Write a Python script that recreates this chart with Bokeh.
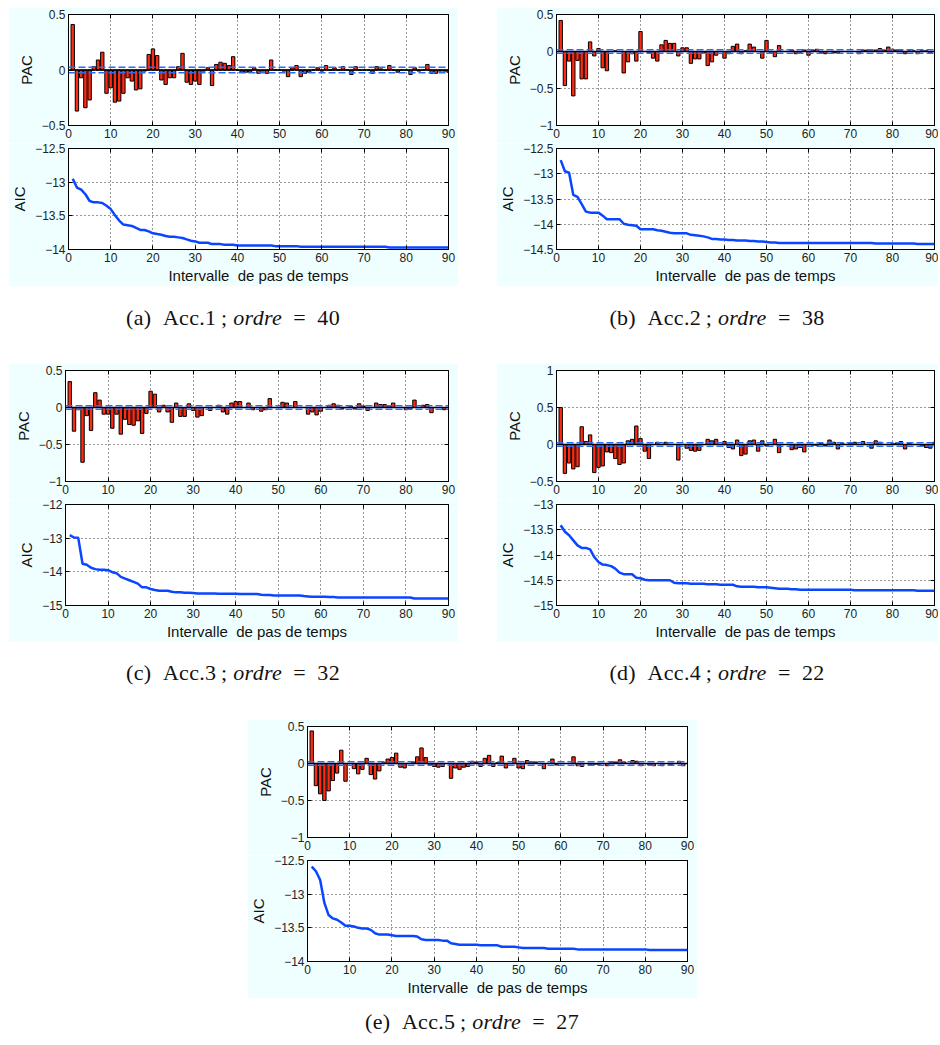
from bokeh.plotting import figure
from bokeh.layouts import column, row
from bokeh.models import (Div, Spacer, FixedTicker, CustomJSTickFormatter, Range1d, Span,
                          LinearAxis)
from bokeh.embed import file_html
from bokeh.resources import INLINE

lags = list(range(1, 91))
x_ticks = [0, 10, 20, 30, 40, 50, 60, 70, 80, 90]

pac_a = [0.41, -0.37, -0.07, -0.34, -0.27, 0.03, 0.09, 0.16, -0.21, -0.16,
         -0.29, -0.28, -0.21, -0.07, -0.10, -0.18, -0.17, -0.01, 0.14, 0.19,
         0.13, -0.09, -0.13, -0.07, -0.07, 0.03, 0.15, -0.11, -0.13, -0.10,
         -0.13, -0.01, 0.02, -0.14, 0.05, 0.07, 0.06, 0.04, 0.12, 0.0,
         -0.02, -0.02, -0.02, 0.02, -0.03, -0.01, -0.03, 0.09, 0.0, 0.0,
         -0.01, -0.06, 0.02, 0.04, -0.06, -0.03, -0.02, 0.0, 0.02, -0.01,
         0.04, 0.0, 0.02, 0.0, 0.03, 0.0, -0.04, 0.03, 0.0, 0.0,
         0.0, -0.03, 0.03, 0.01, 0.0, 0.04, 0.0, -0.02, 0.0, 0.0,
         -0.04, 0.02, -0.01, 0.0, 0.05, -0.03, -0.03, -0.01, -0.01, -0.02]
pac_b = [0.42, -0.46, -0.13, -0.60, -0.12, -0.37, -0.37, 0.13, -0.06, 0.04,
         -0.22, -0.26, 0.0, 0.01, 0.0, -0.29, -0.14, -0.03, -0.13, 0.27,
         0.0, -0.02, -0.09, -0.13, 0.09, 0.15, 0.11, 0.11, -0.06, 0.05,
         0.05, -0.16, -0.10, -0.10, -0.02, -0.19, -0.14, -0.05, 0.0, -0.09,
         -0.03, 0.07, 0.10, -0.03, 0.01, 0.10, 0.06, 0.0, -0.09, 0.15,
         -0.01, -0.07, 0.08, 0.0, 0.0, 0.02, -0.03, -0.01, 0.02, -0.05,
         0.02, 0.03, -0.02, -0.03, 0.0, -0.02, -0.02, 0.0, 0.0, 0.0,
         0.0, -0.03, 0.02, 0.02, 0.01, 0.02, 0.04, 0.02, 0.06, 0.03,
         0.02, 0.01, -0.03, 0.01, 0.01, -0.03, 0.01, 0.01, -0.02, 0.0]
pac_c = [0.35, -0.32, -0.03, -0.74, -0.11, -0.31, 0.20, 0.10, -0.09, -0.09,
         -0.28, -0.09, -0.36, -0.16, -0.23, -0.24, -0.18, -0.35, -0.08, 0.22,
         0.18, -0.06, 0.03, -0.06, -0.20, 0.06, -0.12, -0.12, 0.05, -0.04,
         -0.13, -0.11, 0.0, -0.04, 0.0, 0.03, -0.06, -0.09, 0.06, 0.08,
         0.08, 0.0, 0.06, -0.03, 0.0, -0.05, -0.03, 0.12, 0.0, 0.0,
         0.07, 0.06, 0.0, 0.08, 0.0, 0.0, -0.09, -0.06, -0.10, -0.05,
         0.0, 0.03, 0.05, 0.03, -0.02, 0.0, 0.02, -0.02, 0.05, 0.02,
         -0.04, 0.0, 0.06, 0.04, 0.04, 0.02, 0.06, 0.0, 0.0, -0.03,
         -0.02, 0.10, 0.0, 0.03, 0.04, -0.07, 0.0, 0.0, -0.03, 0.0]
pac_d = [0.50, -0.39, -0.25, -0.33, -0.30, 0.24, 0.04, 0.13, -0.38, -0.31,
         -0.29, -0.10, -0.11, -0.19, -0.27, -0.25, 0.05, 0.07, 0.25, 0.08,
         -0.09, -0.19, 0.0, 0.03, 0.0, 0.03, 0.0, 0.0, -0.21, 0.0,
         -0.05, -0.08, -0.09, -0.08, 0.0, 0.07, 0.05, 0.07, 0.0, 0.04,
         -0.04, -0.06, 0.06, -0.15, -0.13, 0.05, 0.06, -0.09, 0.05, -0.02,
         0.0, 0.07, -0.11, 0.0, 0.0, -0.07, -0.06, -0.04, -0.10, 0.0,
         -0.01, -0.01, 0.02, -0.02, 0.06, 0.03, -0.06, 0.02, 0.0, 0.02,
         0.03, 0.0, 0.04, 0.0, -0.05, 0.05, 0.03, 0.0, 0.0, 0.01,
         0.02, 0.04, -0.06, 0.02, 0.0, 0.0, -0.02, -0.04, -0.05, 0.03]
pac_e = [0.44, -0.30, -0.41, -0.50, -0.37, -0.23, -0.13, 0.18, -0.24, 0.0,
         -0.07, -0.14, -0.08, 0.07, -0.15, -0.21, -0.10, 0.01, 0.06, 0.08,
         0.14, -0.05, -0.06, 0.0, 0.02, 0.09, 0.21, 0.08, -0.02, -0.04,
         -0.05, -0.04, 0.0, -0.20, -0.06, -0.08, -0.05, -0.04, 0.03, 0.02,
         -0.04, 0.07, 0.11, -0.04, 0.01, 0.10, -0.06, 0.0, 0.07, -0.06,
         -0.07, 0.04, 0.02, 0.02, 0.0, -0.07, 0.0, 0.06, -0.02, 0.0,
         0.0, 0.0, 0.09, -0.03, -0.04, 0.0, -0.02, -0.01, -0.01, 0.0,
         -0.03, 0.02, 0.02, 0.05, 0.02, 0.0, 0.04, 0.03, -0.03, 0.0,
         -0.02, -0.03, 0.0, -0.03, 0.0, -0.02, 0.0, 0.03, -0.03, 0.0]

aic_a = [-12.95, -13.08, -13.11, -13.18, -13.28, -13.30, -13.30, -13.31, -13.35, -13.40,
         -13.49, -13.57, -13.63, -13.64, -13.65, -13.68, -13.71, -13.71, -13.73, -13.76,
         -13.77, -13.78, -13.80, -13.81, -13.81, -13.82, -13.83, -13.85, -13.87, -13.88,
         -13.90, -13.90, -13.90, -13.92, -13.92, -13.92, -13.93, -13.93, -13.93, -13.94,
         -13.94, -13.94, -13.94, -13.94, -13.94, -13.94, -13.94, -13.94, -13.95, -13.95,
         -13.95, -13.95, -13.95, -13.95, -13.96, -13.96, -13.96, -13.96, -13.96, -13.96,
         -13.96, -13.96, -13.96, -13.96, -13.96, -13.96, -13.96, -13.96, -13.96, -13.96,
         -13.96, -13.96, -13.96, -13.96, -13.96, -13.97, -13.97, -13.97, -13.97, -13.97,
         -13.97, -13.97, -13.97, -13.97, -13.97, -13.97, -13.97, -13.97, -13.97, -13.97]
aic_b = [-12.73, -12.95, -12.98, -13.42, -13.46, -13.60, -13.75, -13.77, -13.77, -13.77,
         -13.83, -13.90, -13.90, -13.90, -13.90, -13.99, -14.01, -14.02, -14.03, -14.10,
         -14.10, -14.10, -14.10, -14.12, -14.13, -14.15, -14.17, -14.18, -14.18, -14.18,
         -14.18, -14.21, -14.22, -14.23, -14.24, -14.26, -14.29, -14.29, -14.30, -14.30,
         -14.31, -14.31, -14.32, -14.32, -14.32, -14.33, -14.33, -14.34, -14.34, -14.35,
         -14.36, -14.36, -14.37, -14.37, -14.37, -14.37, -14.37, -14.37, -14.37, -14.37,
         -14.37, -14.37, -14.37, -14.37, -14.37, -14.37, -14.37, -14.37, -14.37, -14.37,
         -14.37, -14.37, -14.37, -14.37, -14.37, -14.38, -14.38, -14.38, -14.38, -14.38,
         -14.38, -14.38, -14.38, -14.38, -14.38, -14.39, -14.39, -14.39, -14.39, -14.39]
aic_c = [-12.91, -12.98, -12.99, -13.76, -13.79, -13.88, -13.92, -13.94, -13.94, -13.95,
         -14.01, -14.04, -14.15, -14.20, -14.25, -14.30, -14.35, -14.46, -14.46, -14.51,
         -14.54, -14.56, -14.56, -14.56, -14.59, -14.61, -14.61, -14.62, -14.62, -14.63,
         -14.64, -14.64, -14.64, -14.64, -14.64, -14.65, -14.65, -14.65, -14.65, -14.65,
         -14.66, -14.66, -14.66, -14.66, -14.66, -14.68, -14.69, -14.69, -14.70, -14.70,
         -14.70, -14.70, -14.70, -14.70, -14.70, -14.72, -14.73, -14.74, -14.74, -14.74,
         -14.74, -14.75, -14.75, -14.76, -14.76, -14.76, -14.76, -14.76, -14.76, -14.76,
         -14.76, -14.76, -14.76, -14.76, -14.76, -14.76, -14.76, -14.76, -14.76, -14.76,
         -14.76, -14.79, -14.79, -14.79, -14.79, -14.79, -14.79, -14.79, -14.79, -14.79]
aic_d = [-13.41, -13.54, -13.61, -13.71, -13.81, -13.86, -13.86, -13.89, -14.04, -14.14,
         -14.19, -14.20, -14.22, -14.27, -14.35, -14.38, -14.38, -14.38, -14.45, -14.46,
         -14.49, -14.50, -14.50, -14.50, -14.50, -14.50, -14.50, -14.55, -14.56, -14.56,
         -14.56, -14.57, -14.57, -14.57, -14.57, -14.58, -14.58, -14.58, -14.59, -14.59,
         -14.59, -14.59, -14.62, -14.63, -14.63, -14.63, -14.63, -14.64, -14.64, -14.64,
         -14.65, -14.66, -14.67, -14.67, -14.67, -14.68, -14.68, -14.69, -14.69, -14.69,
         -14.69, -14.69, -14.69, -14.69, -14.69, -14.69, -14.69, -14.69, -14.69, -14.69,
         -14.70, -14.70, -14.70, -14.70, -14.70, -14.70, -14.70, -14.70, -14.70, -14.70,
         -14.70, -14.70, -14.70, -14.70, -14.70, -14.71, -14.71, -14.71, -14.71, -14.71]
aic_e = [-12.59, -12.66, -12.79, -13.13, -13.31, -13.36, -13.38, -13.42, -13.47, -13.47,
         -13.48, -13.50, -13.51, -13.51, -13.53, -13.58, -13.60, -13.60, -13.60, -13.61,
         -13.62, -13.62, -13.62, -13.62, -13.62, -13.63, -13.67, -13.68, -13.68, -13.68,
         -13.68, -13.69, -13.69, -13.73, -13.74, -13.75, -13.75, -13.75, -13.75, -13.75,
         -13.76, -13.76, -13.76, -13.76, -13.76, -13.78, -13.78, -13.78, -13.78, -13.79,
         -13.80, -13.80, -13.80, -13.80, -13.80, -13.80, -13.81, -13.81, -13.81, -13.81,
         -13.81, -13.81, -13.81, -13.82, -13.82, -13.82, -13.82, -13.82, -13.82, -13.82,
         -13.82, -13.82, -13.82, -13.82, -13.82, -13.82, -13.82, -13.82, -13.82, -13.82,
         -13.83, -13.83, -13.83, -13.83, -13.83, -13.83, -13.83, -13.83, -13.83, -13.83]

pac_ticks_a = [-0.5, 0, 0.5]
pac_ticks_b = [-1, -0.5, 0, 0.5]
pac_ticks_c = [-1, -0.5, 0, 0.5]
pac_ticks_d = [-0.5, 0, 0.5, 1]
pac_ticks_e = [-1, -0.5, 0, 0.5]
aic_ticks_a = [-14, -13.5, -13, -12.5]
aic_ticks_b = [-14.5, -14, -13.5, -13, -12.5]
aic_ticks_c = [-15, -14, -13, -12]
aic_ticks_d = [-15, -14.5, -14, -13.5, -13]
aic_ticks_e = [-14, -13.5, -13, -12.5]
conf_bound = 0.025

panel_labels = ["a", "b", "c", "d", "e"]
sensors = ["Acc.1", "Acc.2", "Acc.3", "Acc.4", "Acc.5"]
orders = ["40", "38", "32", "22", "27"]
x_title = "Intervalle\u00a0 de pas de temps"

CYAN = "#EFFFFF"
RED = "#FF2A12"
BLUE = "#0A46FF"
DASH_BLUE = "#2F6BEF"
FONT = "Liberation Sans"

fmt_code = "return String(tick).replace('-', '\u2212');"


def mirror_axis(p, ticks, place):
    ax = LinearAxis(ticker=FixedTicker(ticks=ticks),
                    formatter=CustomJSTickFormatter(code="return '';"),
                    major_label_standoff=0, major_tick_in=4, major_tick_out=0,
                    minor_tick_line_color=None, axis_line_color=None,
                    major_tick_line_color="black")
    p.add_layout(ax, place)


def style(p, yticks, ylabel, xlabel):
    p.xaxis.ticker = FixedTicker(ticks=x_ticks)
    p.yaxis.ticker = FixedTicker(ticks=yticks)
    for ax in (p.xaxis[0], p.yaxis[0]):
        ax.major_tick_in = 4
        ax.major_tick_out = 0
        ax.minor_tick_line_color = None
        ax.major_tick_line_color = "black"
        ax.axis_line_color = "black"
        ax.major_label_text_font = FONT
        ax.major_label_text_font_size = "12px"
        ax.major_label_text_color = "#222222"
        ax.major_label_standoff = 3
        ax.formatter = CustomJSTickFormatter(code=fmt_code)
        ax.axis_label_text_font = FONT
        ax.axis_label_text_font_size = "15px"
        ax.axis_label_text_font_style = "normal"
        ax.axis_label_text_color = "#111111"
        ax.axis_label_standoff = 4
    p.yaxis[0].axis_label = ylabel
    if xlabel:
        p.xaxis[0].axis_label = xlabel
        p.xaxis[0].axis_label_standoff = 2
    for g in (p.xgrid[0], p.ygrid[0]):
        g.grid_line_color = "#333333"
        g.grid_line_dash = "1 3"
        g.grid_line_width = 1
    p.outline_line_color = "black"
    p.outline_line_width = 1
    mirror_axis(p, x_ticks, "above")
    mirror_axis(p, yticks, "right")


def make_panel(i, pac, aic, pac_ticks, aic_ticks, W, bl, br, cap_h, cap_pad):
    p1 = figure(width=W, height=136, output_backend="svg", toolbar_location=None,
                x_range=Range1d(0, 90), y_range=Range1d(pac_ticks[0], pac_ticks[-1]),
                min_border_left=bl, min_border_right=br, min_border_top=7, min_border_bottom=18,
                background_fill_color="white", border_fill_color=CYAN)
    p1.vbar(x=lags, top=pac, bottom=0, width=0.8, fill_color=RED,
            line_color="black", line_width=1)
    p1.add_layout(Span(location=0, dimension="width", line_color="black", line_width=1.5))
    for c in (-conf_bound, conf_bound):
        p1.add_layout(Span(location=c, dimension="width", line_color=DASH_BLUE,
                           line_width=1.5, line_dash="7 3"))
    style(p1, pac_ticks, "PAC", None)

    p2 = figure(width=W, height=143, output_backend="svg", toolbar_location=None,
                x_range=Range1d(0, 90), y_range=Range1d(aic_ticks[0], aic_ticks[-1]),
                min_border_left=bl, min_border_right=br, min_border_top=5, min_border_bottom=36,
                background_fill_color="white", border_fill_color=CYAN)
    p2.line(lags, aic, line_color=BLUE, line_width=2.5)
    style(p2, aic_ticks, "AIC", x_title)

    cap = Div(text=(f'<div style="width:{W}px;text-align:center;'
                    f"font-family:'Liberation Serif',serif;font-size:22px;color:#111;"
                    f'letter-spacing:0.3px;'
                    f'padding-top:{cap_pad}px">({panel_labels[i]})&nbsp;&nbsp;{sensors[i]}&thinsp;; '
                    f'<i>ordre</i>&ensp;=&ensp;{orders[i]}</div>'),
              width=W, height=cap_h, margin=(0, 0, 0, 0))
    return column(p1, p2, cap, spacing=0)


pa = make_panel(0, pac_a, aic_a, pac_ticks_a, aic_ticks_a, 450, 57, 10, 77, 16)
pb = make_panel(1, pac_b, aic_b, pac_ticks_b, aic_ticks_b, 442, 56, 4, 77, 16)
pc = make_panel(2, pac_c, aic_c, pac_ticks_c, aic_ticks_c, 450, 57, 10, 77, 15)
pd = make_panel(3, pac_d, aic_d, pac_ticks_d, aic_ticks_d, 442, 56, 4, 77, 15)
pe = make_panel(4, pac_e, aic_e, pac_ticks_e, aic_ticks_e, 450, 56, 10, 38, 8)

grid = column(
    Spacer(width=10, height=7),
    row(pa, Spacer(width=38, height=10), pb, spacing=0),
    row(pc, Spacer(width=38, height=10), pd, spacing=0),
    row(Spacer(width=239, height=10), pe, spacing=0),
    spacing=0,
)
layout = row(Spacer(width=8, height=10), grid, spacing=0)

open("out.html", "w").write(file_html(layout, INLINE))
